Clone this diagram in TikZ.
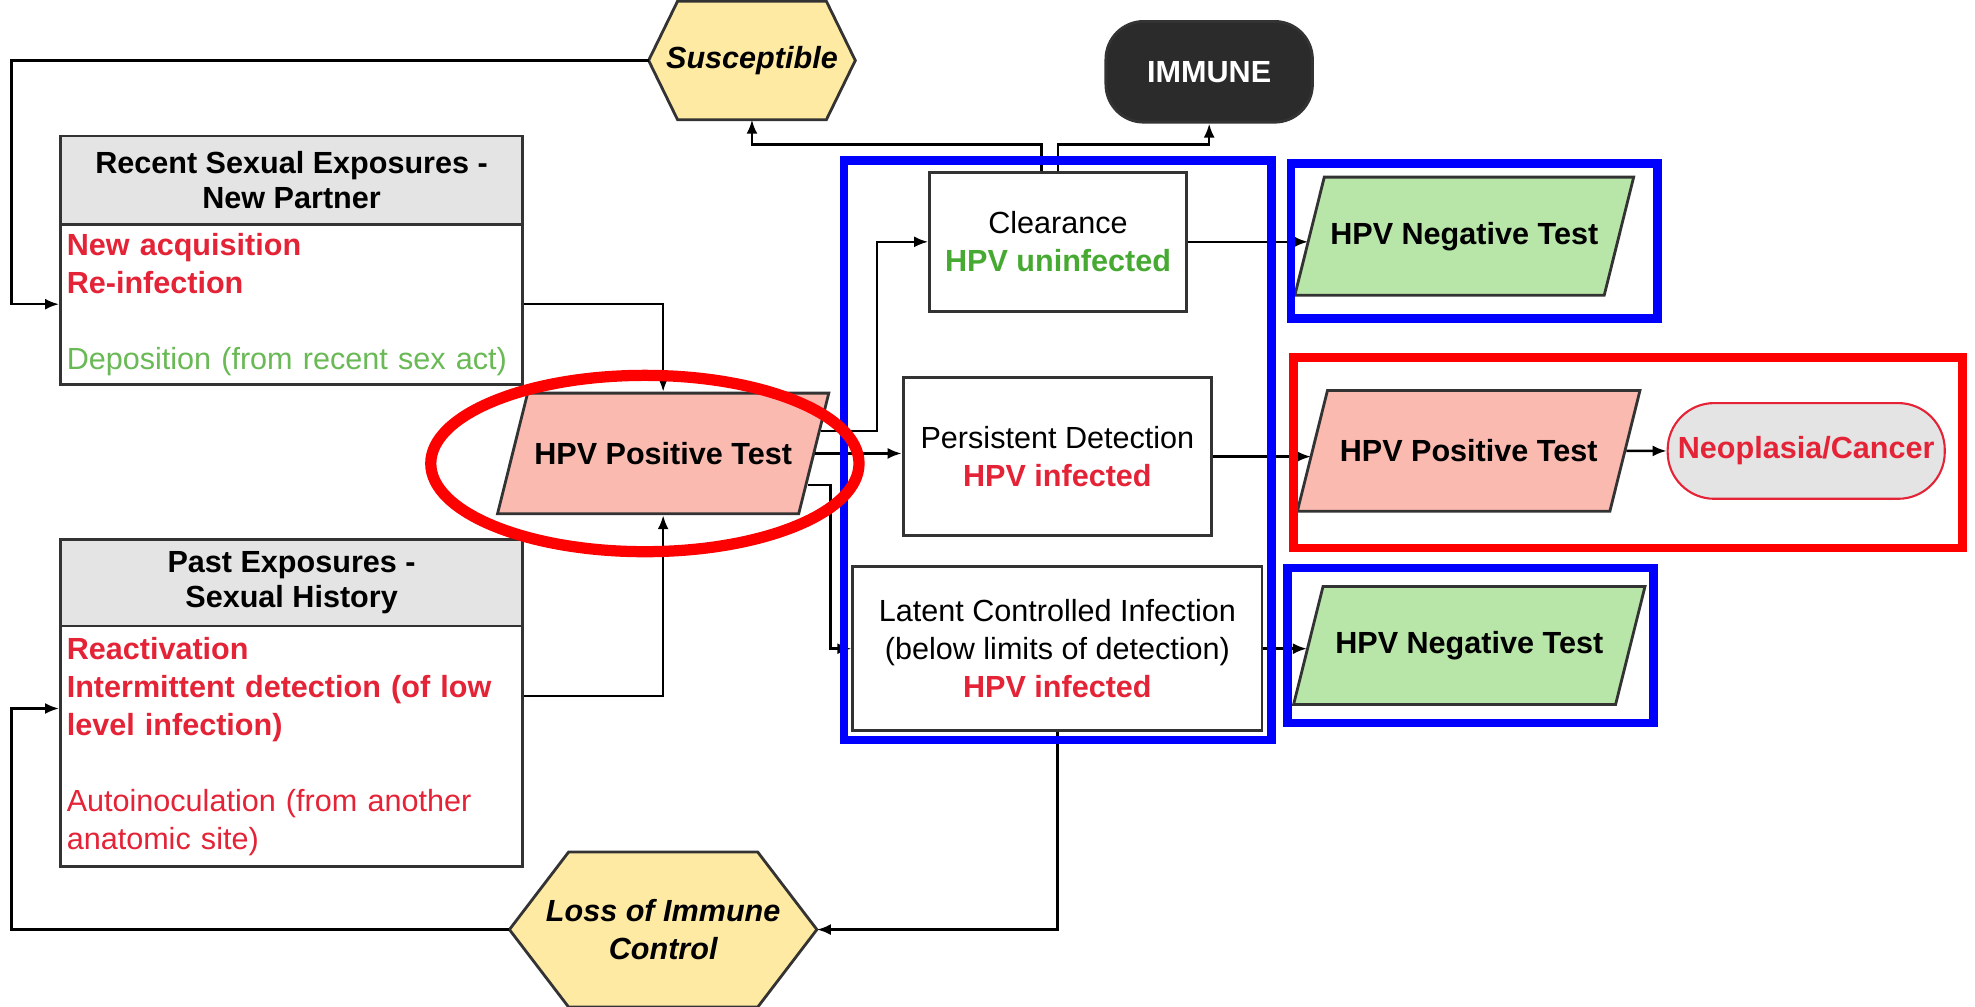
\documentclass[tikz,border=0pt]{standalone}
\usepackage{fontspec}
\setmainfont{Liberation Sans}
\usetikzlibrary{arrows.meta,positioning,shapes.geometric,shapes.misc,backgrounds}
\definecolor{hpvRed}{RGB}{228,35,55}
\definecolor{hpvGreen}{RGB}{70,170,50}
\definecolor{depGreen}{RGB}{105,185,85}
\definecolor{hexYellow}{RGB}{255,234,163}
\definecolor{negGreen}{RGB}{184,229,168}
\definecolor{posPink}{RGB}{250,186,176}
\definecolor{hdrGray}{RGB}{228,228,228}
\definecolor{immBlack}{RGB}{43,43,43}
\newcommand{\upx}{0.12596mm}
\newcommand{\hpvfont}{\fontsize{8.7}{10.8}\selectfont}
\tikzset{
  box/.style={draw=black!80, line width=0.8pt, fill=white, align=center, inner sep=0pt, font=\hpvfont},
  hdrbox/.style={box, fill=hdrGray, minimum width=367*\upx, font=\fontsize{8.7}{9.8}\selectfont\bfseries},
  bodybox/.style={box, minimum width=367*\upx, text width=357*\upx, inner xsep=5*\upx, align=left},
  para/.style={trapezium, trapezium left angle=76, trapezium right angle=104, trapezium stretches body,
               draw=black!80, line width=0.8pt, inner xsep=0pt, font=\hpvfont\bfseries},
  negpara/.style={para, fill=negGreen, inner ysep=35.5*\upx},
  pospara/.style={para, fill=posPink, inner ysep=39*\upx},
  hexbox/.style={inner sep=0pt, align=center, font=\hpvfont\bfseries\itshape},
  hexline/.style={draw=black!80, line width=0.8pt, fill=hexYellow},
  immbox/.style={box, fill=immBlack, text=white, font=\hpvfont\bfseries, rounded corners=30*\upx,
                 minimum width=164*\upx, minimum height=80*\upx},
  neobox/.style={box, fill=hdrGray, draw=hpvRed, line width=0.6pt, text=hpvRed, font=\hpvfont\bfseries,
                 rounded corners=37*\upx, minimum width=220*\upx, minimum height=76*\upx},
  arr/.style={-{Latex[length=1.4mm,width=1.1mm]}, line width=0.7pt},
  blueframe/.style={draw=blue, line width=2.5pt},
  redframe/.style={draw=red, line width=2.5pt}
}

\begin{document}
\begin{tikzpicture}[x=\upx, y=-\upx]
\useasboundingbox (0,0) rectangle (1568,799);
\coordinate (railL) at (9,0);

\node[hexbox, minimum width=163*\upx, minimum height=93*\upx] (sus) at (597,48) {Susceptible};
\node[immbox] (imm) at (960,57) {IMMUNE};

\node[hdrbox, minimum height=70*\upx] (recentH) at (231.5,143) {Recent Sexual Exposures -\\New Partner};
\node[bodybox, minimum height=127*\upx] (recentB) at (231.5,241.5)
  {\textcolor{hpvRed}{\bfseries New acquisition}\\
   \textcolor{hpvRed}{\bfseries Re-infection}\\[10.8pt]
   \textcolor{depGreen}{Deposition (from recent sex act)}};
\node[hdrbox, minimum height=69*\upx] (pastH) at (231.5,462.5) {Past Exposures -\\Sexual History};
\node[bodybox, minimum height=191*\upx] (pastB) at (231.5,592.5)
  {\textcolor{hpvRed}{\bfseries Reactivation}\\
   \textcolor{hpvRed}{\bfseries Intermittent detection (of low}\\
   \textcolor{hpvRed}{\bfseries level infection)}\\[10.8pt]
   \textcolor{hpvRed}{Autoinoculation (from another}\\
   \textcolor{hpvRed}{anatomic site)}};

\node[pospara, minimum width=263*\upx] (hpvpos) at (526.5,360) {HPV Positive Test};

\node[box, minimum width=204*\upx, minimum height=110*\upx] (clr) at (840,192)
  {Clearance\\\textcolor{hpvGreen}{\bfseries HPV uninfected}};
\node[box, minimum width=245*\upx, minimum height=125*\upx] (pers) at (839.5,362.5)
  {Persistent Detection\\\textcolor{hpvRed}{\bfseries HPV infected}};
\node[box, minimum width=325*\upx, minimum height=130*\upx] (lat) at (839.5,515)
  {Latent Controlled Infection\\(below limits of detection)\\\textcolor{hpvRed}{\bfseries HPV infected}};

\node[negpara, minimum width=269*\upx] (negtop) at (1162.5,187.5) {HPV Negative Test};
\node[pospara, minimum width=272*\upx] (posR) at (1166,358) {HPV Positive Test};
\node[neobox] (neo) at (1434,358) {Neoplasia/Cancer};
\node[negpara, minimum width=279*\upx] (negbot) at (1166.5,512.5) {HPV Negative Test};

\node[hexbox, minimum width=243*\upx, minimum height=122*\upx] (loss) at (526.5,738) {Loss of Immune\\Control};

% hexagon outlines behind the labels
\begin{scope}[on background layer]
\draw[hexline] (sus.west) -- ([xshift=23*\upx]sus.north west) -- ([xshift=-23*\upx]sus.north east) -- (sus.east)
  -- ([xshift=-23*\upx]sus.south east) -- ([xshift=23*\upx]sus.south west) -- cycle;
\draw[hexline] (loss.west) -- ([xshift=47*\upx]loss.north west) -- ([xshift=-47*\upx]loss.north east) -- (loss.east)
  -- ([xshift=-47*\upx]loss.south east) -- ([xshift=47*\upx]loss.south west) -- cycle;
\end{scope}

\draw[arr] (sus.west) -- (sus.west -| railL) |- (recentB.west);
\draw[arr] (recentB.east) -| (hpvpos.center |- hpvpos.north);
\draw[arr] ([yshift=40*\upx]pastB.east) -| (hpvpos.center |- hpvpos.south);
\draw[arr] (loss.west) -- (loss.west -| railL) |- ([yshift=30*\upx]pastB.west);
\draw[arr] (lat.south) |- (loss.east);
\draw[arr] ([xshift=-13*\upx]clr.north) -- ++(0,-21) -| (sus.south);
\draw[arr] (clr.north) -- ++(0,-21) -| (imm.south);
\draw[arr] ([shift={(5,-18)}]hpvpos.east) -- ++(44,0) |- (clr.west);
\draw[arr] (hpvpos.east) -- (hpvpos.east -| pers.west);
\draw[arr] ([shift={(-6,25)}]hpvpos.east) -- ++(18,0) |- (lat.west);
\draw[arr] (clr.east) -- (clr.east -| negtop.west);
\draw[arr] (pers.east) -- (pers.east -| posR.west);
\draw[arr] (posR.east) -- (neo.west);
\draw[arr] (lat.east) -- (lat.east -| negbot.west);

% highlight frames
\draw[blueframe] (670,127.5) rectangle (1009.5,587.5);
\draw[blueframe] (1025,130) rectangle (1316,253);
\draw[redframe] (1027,284) rectangle (1558,435);
\draw[blueframe] (1022,451) rectangle (1313,574);
\draw[redframe, line width=3.2pt] (512,368) ellipse [x radius=170, y radius=70];
\end{tikzpicture}
\end{document}
